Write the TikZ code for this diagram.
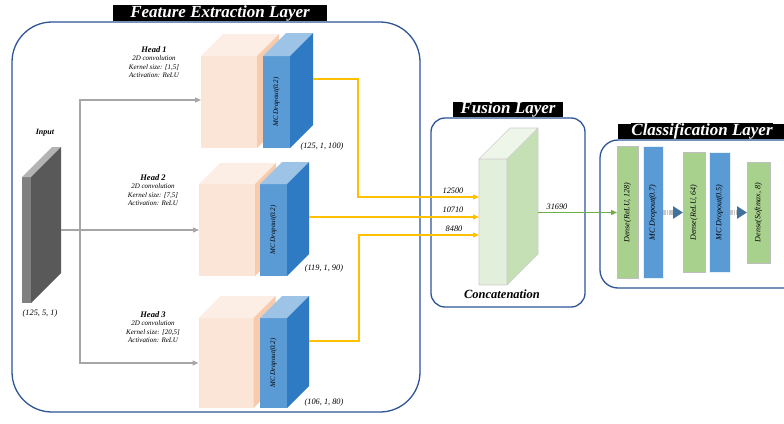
\documentclass[tikz,border=0pt]{standalone}
\usepackage{fontspec}
\setmainfont{Liberation Serif}
\usetikzlibrary{arrows.meta}
\definecolor{boxblue}{HTML}{2F5597}
\definecolor{peachF}{HTML}{FBE5D6}
\definecolor{peachT}{HTML}{FCEEE5}
\definecolor{peachS}{HTML}{F8CBAD}
\definecolor{blueF}{HTML}{5B9BD5}
\definecolor{blueT}{HTML}{9DC3E6}
\definecolor{blueS}{HTML}{2E7BC4}
\definecolor{greenF}{HTML}{E2EFDA}
\definecolor{greenT}{HTML}{EEF5E9}
\definecolor{greenS}{HTML}{C5E0B4}
\definecolor{denseG}{HTML}{A9D18E}
\definecolor{yel}{HTML}{FFC000}
\definecolor{grn}{HTML}{70AD47}
\definecolor{arrgray}{HTML}{A6A6A6}
\definecolor{triblue}{HTML}{41719C}
\definecolor{inF}{HTML}{808080}
\definecolor{inT}{HTML}{B3B3B3}
\definecolor{inS}{HTML}{595959}
\newcommand\mycube[8]{%
 \node[inner sep=0pt, outer sep=0pt, minimum width=#3pt, minimum height=#4pt, fill=#6] (#1) at #2 {};
 \fill[#7] (#1.north west) -- ++(#5,-#5) -- ([shift={(#5,-#5)}]#1.north east) -- (#1.north east) -- cycle;
 \fill[#8] (#1.north east) -- ([shift={(#5,-#5)}]#1.north east) -- ([shift={(#5,-#5)}]#1.south east) -- (#1.south east) -- cycle;
}
\tikzset{
 layerbox/.style={draw=boxblue, line width=1.3pt},
 titlebox/.style={fill=black, text=white, inner sep=0pt, font=\bfseries\itshape},
 headtxt/.style={align=center, font=\itshape\fontsize{7}{8.5}\selectfont, inner sep=0pt},
 small/.style={font=\itshape\fontsize{8.3}{9}\selectfont, inner sep=0pt},
 rottxt/.style={rotate=90, font=\itshape\fontsize{7}{8}\selectfont, inner sep=0pt},
 gline/.style={draw=arrgray, line width=1.2pt},
 garrow/.style={gline, -{Triangle[length=6pt,width=5pt]}},
 yarrow/.style={draw=yel, line width=1.3pt, -{Triangle[length=6pt,width=5pt]}},
 greenarrow/.style={draw=grn, line width=1.3pt, -{Triangle[length=6pt,width=5pt]}},
 bar/.style={inner sep=0pt, outer sep=0pt, line width=0.8pt},
 densebar/.style={bar, fill=denseG, draw=black!25},
 dropbar/.style={bar, fill=blueF, draw=white!85!blueF},
 classarrow/.style={draw=black!22, line width=5pt, -{Triangle[length=10pt,width=12pt,color=triblue]}},
 stripe/.style={draw=white, line width=0.7pt},
 bartxt/.style={rottxt, font=\itshape\fontsize{8}{9}\selectfont},
}
\begin{document}
\begin{tikzpicture}[x=1pt,y=-1pt]
\useasboundingbox (0,0) rectangle (784,423);
\fill[white] (0,0) rectangle (784,423);
\clip (0,0) rectangle (784,423);

% ---------- Feature extraction layer ----------
\draw[layerbox, rounded corners=40pt] (12,22) rectangle (420,412);
\fill[black] (113,5) rectangle (327,21);
\node[titlebox, font=\bfseries\itshape\fontsize{17}{17}\selectfont] (t1) at (220,13.5) {Feature Extraction Layer};

% input
\mycube{inp}{(26.5,240)}{9}{126}{30}{inF}{inT}{inS}
\node[small, font=\bfseries\itshape\fontsize{8}{9}\selectfont] (inlab) at (45,133) {Input};
\node[small] (inshape) at (40,313) {(125, 5, 1)};

% head 1
\mycube{peach1}{(229,102)}{56}{92}{22}{peachF}{peachT}{peachS}
\mycube{blue1}{(276.5,102)}{27}{92}{23}{blueF}{blueT}{blueS}
\node[rottxt] (dp1) at (blue1) {MC Dropout(0.2)};
\node[headtxt] (h1) at (154,62) {{\bfseries\fontsize{8.5}{8.5}\selectfont Head 1}\\2D convolution\\Kernel size: [1,5]\\Activation: ReLU};
\node[small] (s1) at (322,147) {(125, 1, 100)};

% head 2
\mycube{peach2}{(227,230)}{56}{92}{21}{peachF}{peachT}{peachS}
\mycube{blue2}{(273.5,230)}{27}{92}{22}{blueF}{blueT}{blueS}
\node[rottxt] (dp2) at (blue2) {MC Dropout(0.2)};
\node[headtxt] (h2) at (153,190) {{\bfseries\fontsize{8.5}{8.5}\selectfont Head 2}\\2D convolution\\Kernel size: [7,5]\\Activation: ReLU};
\node[small] (s2) at (324,268) {(119, 1, 90)};

% head 3
\mycube{peach3}{(226,363)}{55}{90}{22}{peachF}{peachT}{peachS}
\mycube{blue3}{(273.5,363)}{27}{90}{22}{blueF}{blueT}{blueS}
\node[rottxt] (dp3) at (blue3) {MC Dropout(0.2)};
\node[headtxt] (h3) at (153,327) {{\bfseries\fontsize{8.5}{8.5}\selectfont Head 3}\\2D convolution\\Kernel size: [20,5]\\Activation: ReLU};
\node[small] (s3) at (324,402) {(106, 1, 80)};

% gray connectors
\coordinate (inout) at (61,230);
\coordinate (split) at (80,230);
\draw[garrow] (inout) -- (peach2.west);
\draw[garrow] (split) |- ([yshift=2pt]peach1.west);
\draw[garrow] (split) |- (peach3.west);

% ---------- Fusion layer ----------
\draw[layerbox, rounded corners=14pt] (431,118) rectangle (585,307);
\fill[black] (453,102) rectangle (563,117);
\node[titlebox, font=\bfseries\itshape\fontsize{17}{17}\selectfont] (t2) at (508,109.5) {Fusion Layer};
\mycube{concat}{(493,222)}{28}{126}{31}{greenF}{greenT}{greenS}
\draw[black!20, line width=0.6pt] (concat.south west) rectangle (concat.north east)
  ([shift={(31,-31)}]concat.north west) -- ([shift={(31,-31)}]concat.north east) -- ([shift={(31,-31)}]concat.south east) -- (concat.south east)
  (concat.north west) -- ([shift={(31,-31)}]concat.north west)
  (concat.north east) -- ([shift={(31,-31)}]concat.north east);
\node[font=\bfseries\itshape\fontsize{12.5}{13}\selectfont, inner sep=0pt] (cc) at (502,294) {Concatenation};

% yellow connectors
\coordinate (b1o) at ([shift={(23,-23)}]blue1.east);
\coordinate (b2o) at ([shift={(22,-13)}]blue2.east);
\coordinate (b3o) at ([shift={(22,-22)}]blue3.east);
\draw[yarrow] (b1o) -| (358,197) -- ([yshift=25pt]concat.west);
\draw[yarrow] (b2o) -- ([yshift=5pt]concat.west);
\draw[yarrow] (b3o) -| (359,235) -- ([yshift=-13pt]concat.west);
\node[small] (n1) at (453,191) {12500};
\node[small] (n2) at (453,210) {10710};
\node[small] (n3) at (454,229) {8480};

% ---------- Classification layer ----------
\draw[layerbox, rounded corners=18pt] (600,140) rectangle (820,288);
\fill[black] (618,124) rectangle (800,139);
\node[titlebox, font=\bfseries\itshape\fontsize{17}{17}\selectfont] (t3) at (702,131) {Classification Layer};

\node[densebar, minimum width=21pt, minimum height=132pt] (d1) at (627.5,212.5) {};
\node[dropbar, minimum width=20pt, minimum height=132pt] (p1) at (653,212.5) {};
\node[densebar, minimum width=22pt, minimum height=120pt] (d2) at (694,212.5) {};
\node[dropbar, minimum width=21pt, minimum height=120pt] (p2) at (719.5,212.5) {};
\node[densebar, minimum width=23pt, minimum height=101pt] (d3) at (758.5,212.5) {};
\node[bartxt] (d1t) at (d1) {Dense(ReLU, 128)};
\node[bartxt] (p1t) at (p1) {MC Dropout(0.7)};
\node[bartxt] (d2t) at (d2) {Dense(ReLU, 64)};
\node[bartxt] (p2t) at (p2) {MC Dropout(0.5)};
\node[bartxt] (d3t) at (d3) {Dense(Softmax, 8)};
\draw[classarrow] (p1.east) -- (d2.west);
\draw[classarrow] (p2.east) -- (d3.west);
\draw[stripe] ([shift={(3,-2.5)}]p1.east) -- ([shift={(3,2.5)}]p1.east)
              ([shift={(5.5,-2.5)}]p1.east) -- ([shift={(5.5,2.5)}]p1.east)
              ([shift={(3,-2.5)}]p2.east) -- ([shift={(3,2.5)}]p2.east)
              ([shift={(5,-2.5)}]p2.east) -- ([shift={(5,2.5)}]p2.east);

% green connector
\coordinate (concout) at (538,212.5);
\draw[greenarrow] (concout) -- (d1.west);
\node[small] (n4) at (557,207) {31690};
\end{tikzpicture}
\end{document}
